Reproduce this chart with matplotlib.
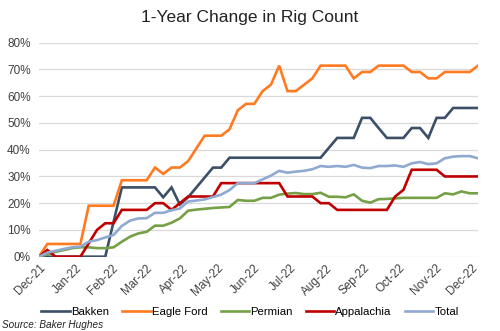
import matplotlib
matplotlib.use("Agg")
import matplotlib.pyplot as plt
import numpy as np
import pandas as pd

plt.rcParams['font.family'] = ['Liberation Sans', 'DejaVu Sans']

dates = pd.date_range("2021-12-24", periods=54, freq="7D")
tick_dates = [pd.Timestamp(2021, 12, 24)] + [pd.Timestamp(2022, m, 24) for m in range(1, 13)]
tick_labels = ["Dec-21", "Jan-22", "Feb-22", "Mar-22", "Apr-22", "May-22", "Jun-22",
               "Jul-22", "Aug-22", "Sep-22", "Oct-22", "Nov-22", "Dec-22"]

bakken = [0, 0, 0, 0, 0, 0, 0, 0, 0, 13.0,
          25.9, 25.9, 25.9, 25.9, 25.9, 22.2, 25.9, 19.5, 22.2, 25.9,
          29.6, 33.3, 33.3, 37.0, 37.0, 37.0, 37.0, 37.0, 37.0, 37.0,
          37.0, 37.0, 37.0, 37.0, 37.0, 40.7, 44.4, 44.4, 44.4, 51.9,
          51.9, 48.1, 44.4, 44.4, 44.4, 48.1, 48.1, 44.4, 51.9, 51.9,
          55.6, 55.6, 55.6, 55.6]
eagle_ford = [0, 4.76, 4.76, 4.76, 4.76, 4.76, 19.05, 19.05, 19.05, 19.05,
              28.57, 28.57, 28.57, 28.57, 33.33, 30.95, 33.33, 33.33, 35.71, 40.48,
              45.24, 45.24, 45.24, 47.62, 54.76, 57.14, 57.14, 61.90, 64.29, 71.43,
              61.90, 61.90, 64.29, 66.67, 71.43, 71.43, 71.43, 71.43, 66.67, 69.05,
              69.05, 71.43, 71.43, 71.43, 71.43, 69.05, 69.05, 66.67, 66.67, 69.05,
              69.05, 69.05, 69.05, 71.43]
permian = [0, 0.9, 1.8, 2.5, 3.2, 3.5, 3.5, 3.2, 3.2, 3.5,
           5.6, 7.5, 8.7, 9.3, 11.6, 11.6, 12.7, 14.3, 17.2, 17.6,
           17.9, 18.2, 18.4, 18.6, 21.2, 20.9, 20.9, 22.0, 22.0, 23.2,
           23.6, 23.8, 23.4, 23.4, 23.9, 22.4, 22.4, 22.2, 23.3, 20.9,
           20.2, 21.5, 21.6, 21.8, 22.0, 22.0, 22.0, 22.0, 22.0, 23.7,
           23.3, 24.4, 23.7, 23.7]
appalachia = [0, 2.5, 0, 0, 0, 0, 5, 10, 12.5, 12.5,
              17.5, 17.5, 17.5, 17.5, 20, 20, 17.5, 20, 22.5, 22.5,
              22.5, 22.5, 27.5, 27.5, 27.5, 27.5, 27.5, 27.5, 27.5, 27.5,
              22.5, 22.5, 22.5, 22.5, 20, 20, 17.5, 17.5, 17.5, 17.5,
              17.5, 17.5, 17.5, 22.5, 25, 32.5, 32.5, 32.5, 32.5, 30,
              30, 30, 30, 30]
total = [0, 1.5, 2.2, 2.9, 3.5, 3.8, 5.6, 6.2, 7.2, 8.1,
         11.5, 13.5, 14.3, 14.4, 16.4, 16.4, 17.4, 18.0, 20.6, 21.0,
         21.4, 22.3, 23.2, 24.9, 27.5, 27.5, 27.5, 28.9, 30.3, 32.1,
         31.4, 31.8, 32.1, 32.7, 33.9, 33.6, 33.9, 33.6, 34.3, 33.3,
         33.1, 33.9, 33.9, 34.1, 33.6, 34.9, 35.4, 34.6, 34.9, 36.8,
         37.4, 37.6, 37.6, 36.8]

series = [
    ("Bakken", bakken, "#3B4F66"),
    ("Eagle Ford", eagle_ford, "#FF7A21"),
    ("Permian", permian, "#76A046"),
    ("Appalachia", appalachia, "#C00000"),
    ("Total", total, "#8FA9D0"),
]

fig = plt.figure(figsize=(5, 3.31), dpi=100)
ax = fig.add_axes([0.078, 0.2245, 0.878, 0.6465])

for name, vals, col in series:
    ax.plot(dates, np.array(vals) / 100.0, color=col, lw=1.9, label=name,
            solid_joinstyle='miter')

ax.set_ylim(0, 0.8)
ax.set_xlim(dates[0], dates[-1])
yt = np.arange(0, 0.81, 0.1)
ax.set_yticks(yt)
ax.set_yticklabels([f"{int(round(v*100))}%" for v in yt], fontsize=8.5)
ax.set_xticks(tick_dates)
ax.set_xticklabels(tick_labels, fontsize=8.5, rotation=45, ha='right', rotation_mode='anchor')
ax.tick_params(axis='both', length=0, pad=6, colors='#404040')
ax.tick_params(axis='x', pad=4)
ax.grid(axis='y', color='#D9D9D9', lw=0.9)
ax.set_axisbelow(True)
for s in ax.spines.values():
    s.set_visible(False)

fig.text(0.5, 0.948, "1-Year Change in Rig Count", ha='center', va='center', fontsize=12.5, color='#222222')

fig.legend(loc='center', bbox_to_anchor=(0.5, 0.057), ncol=5, frameon=False,
           fontsize=8.2, handlelength=2.5, handletextpad=0.1, columnspacing=1.15,
           borderaxespad=0)
fig.text(0.005, 0.018, "Source: Baker Hughes", fontsize=7.2, style='italic', ha='left', va='center', color='#222222')

fig.savefig("out.png", dpi=100)
